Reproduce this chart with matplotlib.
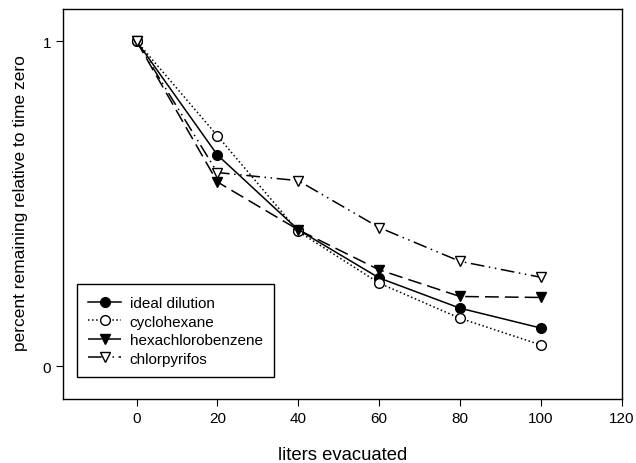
import matplotlib
matplotlib.use("Agg")
import matplotlib.pyplot as plt

plt.rcParams['font.family'] = ['Liberation Sans', 'DejaVu Sans']

liters = [0, 20, 40, 60, 80, 100]
ideal = [1.0, 0.650, 0.420, 0.272, 0.179, 0.118]
cyclohexane = [1.0, 0.709, 0.415, 0.256, 0.148, 0.066]
hexachloro = [1.0, 0.567, 0.420, 0.297, 0.215, 0.212]
chlorpyrifos = [1.0, 0.596, 0.571, 0.427, 0.323, 0.274]

fig = plt.figure(figsize=(6.36, 4.64), dpi=100)
ax = fig.add_axes([0.0986, 0.138, 0.879, 0.840])

ms = 7
ax.plot(liters, ideal, '-', color='black', lw=1.1, marker='o', ms=ms,
        mfc='black', mec='black', label='ideal dilution')
ax.plot(liters, cyclohexane, ':', color='black', lw=1.1, marker='o', ms=ms,
        mfc='white', mec='black', label='cyclohexane')
ax.plot(liters, hexachloro, color='black', lw=1.1, dashes=(9, 4), marker='v',
        ms=ms, mfc='black', mec='black', label='hexachlorobenzene')
ax.plot(liters, chlorpyrifos, color='black', lw=1.1, dashes=(9, 3, 1, 3, 1, 3),
        marker='v', ms=ms, mfc='white', mec='black', label='chlorpyrifos')

ax.set_xlim(-18.25, 120)
ax.set_ylim(-0.10, 1.098)
ax.set_xticks([0, 20, 40, 60, 80, 100, 120])
ax.set_yticks([0, 1])
ax.tick_params(direction='out', labelsize=11, length=5, top=False, right=False)
for s in ax.spines.values():
    s.set_linewidth(1.0)

ax.set_xlabel('liters evacuated', fontsize=13.3, labelpad=15)
ax.set_ylabel('percent remaining relative to time zero', fontsize=12.5)
ax.yaxis.set_label_coords(-0.062, 0.505)

leg = ax.legend(loc='lower left', bbox_to_anchor=(0.0256, 0.056), borderaxespad=0,
                fontsize=11, fancybox=False, edgecolor='black', framealpha=1,
                handlelength=2.1, handletextpad=0.6, labelspacing=0.3,
                borderpad=0.75)
leg.get_frame().set_linewidth(1.0)

fig.savefig('out.png', dpi=100)
